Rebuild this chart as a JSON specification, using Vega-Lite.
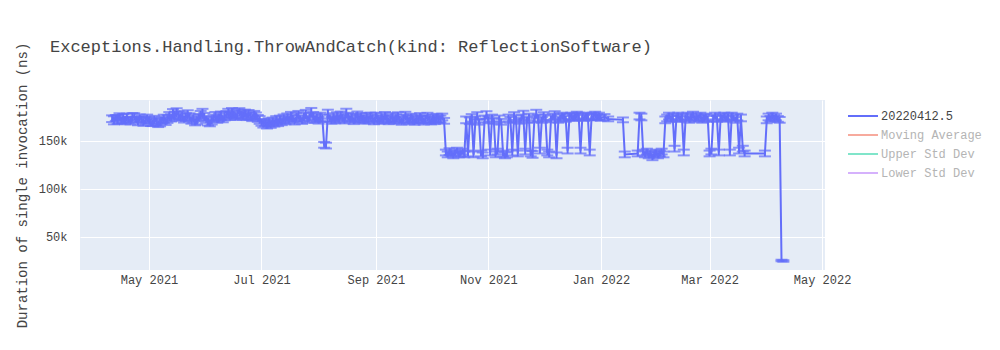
{
  "$schema": "https://vega.github.io/schema/vega-lite/v6.json",
  "autosize": "none",
  "width": 745,
  "height": 170,
  "padding": {"left": 80, "top": 100, "right": 175, "bottom": 80},
  "background": "white",
  "title": {"text": "Exceptions.Handling.ThrowAndCatch(kind: ReflectionSoftware)", "anchor": "start", "frame": "group", "dx": -30, "offset": -14, "font": "Liberation Mono", "fontSize": 17, "fontWeight": "normal", "color": "#444444"},
  "config": {
    "view": {"fill": "#e5ecf6", "stroke": null},
    "axis": {"gridColor": "white", "gridWidth": 1, "domain": false, "ticks": false, "labelFont": "Liberation Mono", "labelFontSize": 12, "labelColor": "#444444", "titleFont": "Liberation Mono", "titleFontSize": 14, "titleColor": "#444444", "titleFontWeight": "normal"}
  },
  "data": {"values": [
    {"d":"2021-04-11","v":173200,"e":3500},{"d":"2021-04-12","v":171500,"e":4200},{"d":"2021-04-13","v":174000,"e":3000},{"d":"2021-04-14","v":172300,"e":4500},{"d":"2021-04-15","v":175100,"e":3800},{"d":"2021-04-16","v":171800,"e":3200},{"d":"2021-04-17","v":173600,"e":4400},{"d":"2021-04-18","v":170900,"e":3500},{"d":"2021-04-19","v":174400,"e":4000},{"d":"2021-04-20","v":172100,"e":3300},
    {"d":"2021-04-21","v":171000,"e":3700},{"d":"2021-04-22","v":174800,"e":4300},{"d":"2021-04-23","v":175300,"e":3600},{"d":"2021-04-24","v":172200,"e":3100},{"d":"2021-04-25","v":170600,"e":4200},{"d":"2021-04-26","v":173900,"e":3800},{"d":"2021-04-27","v":172500,"e":3400},{"d":"2021-04-28","v":169800,"e":4000},{"d":"2021-04-29","v":171200,"e":3600},{"d":"2021-04-30","v":173400,"e":4100},
    {"d":"2021-05-01","v":171700,"e":3500},{"d":"2021-05-02","v":169500,"e":3900},{"d":"2021-05-03","v":168800,"e":3300},{"d":"2021-05-04","v":172000,"e":4200},{"d":"2021-05-05","v":170300,"e":3600},{"d":"2021-05-06","v":167900,"e":3400},{"d":"2021-05-07","v":169200,"e":3900},{"d":"2021-05-08","v":171600,"e":3500},{"d":"2021-05-09","v":173100,"e":4300},{"d":"2021-05-10","v":170400,"e":3700},
    {"d":"2021-05-11","v":172800,"e":4000},{"d":"2021-05-12","v":175500,"e":4600},{"d":"2021-05-13","v":174100,"e":3800},{"d":"2021-05-14","v":178200,"e":5000},{"d":"2021-05-15","v":176400,"e":4200},{"d":"2021-05-16","v":179300,"e":4800},{"d":"2021-05-17","v":177000,"e":4000},{"d":"2021-05-18","v":174600,"e":3600},{"d":"2021-05-19","v":176200,"e":4400},{"d":"2021-05-20","v":172700,"e":3500},
    {"d":"2021-05-21","v":174900,"e":4100},{"d":"2021-05-22","v":177300,"e":4700},{"d":"2021-05-23","v":175000,"e":3900},{"d":"2021-05-24","v":171400,"e":3400},{"d":"2021-05-25","v":173200,"e":4000},{"d":"2021-05-26","v":169900,"e":3600},{"d":"2021-05-27","v":171500,"e":4200},{"d":"2021-05-28","v":174300,"e":3800},{"d":"2021-05-29","v":176800,"e":4500},{"d":"2021-05-30","v":178600,"e":4900},
    {"d":"2021-05-31","v":175200,"e":4000},{"d":"2021-06-01","v":172400,"e":3500},{"d":"2021-06-02","v":170100,"e":3900},{"d":"2021-06-03","v":168700,"e":3400},{"d":"2021-06-04","v":171300,"e":4100},{"d":"2021-06-05","v":173800,"e":3700},{"d":"2021-06-06","v":175900,"e":4300},{"d":"2021-06-07","v":172600,"e":3600},{"d":"2021-06-08","v":174500,"e":4000},{"d":"2021-06-09","v":176300,"e":4400},
    {"d":"2021-06-10","v":173000,"e":3500},{"d":"2021-06-11","v":175700,"e":4200},{"d":"2021-06-12","v":177400,"e":3800},{"d":"2021-06-13","v":178900,"e":4600},{"d":"2021-06-14","v":176100,"e":4000},{"d":"2021-06-15","v":179500,"e":4800},{"d":"2021-06-16","v":177800,"e":4100},{"d":"2021-06-17","v":175600,"e":3700},{"d":"2021-06-18","v":178300,"e":4500},{"d":"2021-06-19","v":180000,"e":4200},
    {"d":"2021-06-20","v":177200,"e":3900},{"d":"2021-06-21","v":176500,"e":4300},{"d":"2021-06-22","v":178700,"e":4000},{"d":"2021-06-23","v":175400,"e":3600},{"d":"2021-06-24","v":177900,"e":4400},{"d":"2021-06-25","v":176000,"e":3800},{"d":"2021-06-26","v":174200,"e":3500},{"d":"2021-06-27","v":177100,"e":4200},{"d":"2021-06-28","v":175800,"e":3900},{"d":"2021-06-29","v":173500,"e":3600},
    {"d":"2021-06-30","v":171900,"e":4000},{"d":"2021-07-01","v":169400,"e":3500},{"d":"2021-07-02","v":167800,"e":3800},{"d":"2021-07-03","v":168900,"e":3300},{"d":"2021-07-04","v":166700,"e":3700},{"d":"2021-07-05","v":169600,"e":4100},{"d":"2021-07-06","v":167200,"e":3500},{"d":"2021-07-07","v":170500,"e":3900},{"d":"2021-07-08","v":168400,"e":3400},{"d":"2021-07-09","v":171700,"e":4200},
    {"d":"2021-07-10","v":169100,"e":3600},{"d":"2021-07-11","v":172400,"e":4000},{"d":"2021-07-12","v":170000,"e":3500},{"d":"2021-07-13","v":173300,"e":4300},{"d":"2021-07-14","v":171200,"e":3700},{"d":"2021-07-15","v":174600,"e":4100},{"d":"2021-07-16","v":172000,"e":3600},{"d":"2021-07-17","v":175800,"e":4500},{"d":"2021-07-18","v":173400,"e":3800},{"d":"2021-07-19","v":170600,"e":3400},
    {"d":"2021-07-20","v":174900,"e":4200},{"d":"2021-07-21","v":176700,"e":4600},{"d":"2021-07-22","v":173100,"e":3700},{"d":"2021-07-23","v":171300,"e":3500},{"d":"2021-07-24","v":175200,"e":4300},{"d":"2021-07-25","v":177600,"e":4800},{"d":"2021-07-26","v":172500,"e":3600},{"d":"2021-07-27","v":174700,"e":4000},{"d":"2021-07-28","v":179400,"e":5000},{"d":"2021-07-29","v":176000,"e":4200},
    {"d":"2021-07-30","v":172800,"e":3700},{"d":"2021-07-31","v":174300,"e":4100},{"d":"2021-08-01","v":171600,"e":3500},{"d":"2021-08-02","v":175100,"e":4400},{"d":"2021-08-03","v":173700,"e":3800},{"d":"2021-08-04","v":146000,"e":3000},{"d":"2021-08-05","v":145200,"e":3000},{"d":"2021-08-06","v":177900,"e":4700},{"d":"2021-08-07","v":173700,"e":3800},{"d":"2021-08-08","v":171400,"e":3500},
    {"d":"2021-08-09","v":174800,"e":4200},{"d":"2021-08-10","v":172200,"e":3600},{"d":"2021-08-11","v":175600,"e":4400},{"d":"2021-08-12","v":173000,"e":3700},{"d":"2021-08-13","v":176400,"e":4300},{"d":"2021-08-14","v":174100,"e":3900},{"d":"2021-08-15","v":171800,"e":3500},{"d":"2021-08-16","v":178600,"e":5000},{"d":"2021-08-17","v":175300,"e":4100},{"d":"2021-08-18","v":172900,"e":3600},
    {"d":"2021-08-19","v":174500,"e":4000},{"d":"2021-08-20","v":171100,"e":3500},{"d":"2021-08-21","v":173800,"e":4200},{"d":"2021-08-22","v":176200,"e":4500},{"d":"2021-08-23","v":172600,"e":3700},{"d":"2021-08-24","v":175000,"e":4100},{"d":"2021-08-25","v":173300,"e":3800},{"d":"2021-08-26","v":171500,"e":3500},{"d":"2021-08-27","v":174700,"e":4300},{"d":"2021-08-28","v":172100,"e":3600},
    {"d":"2021-08-29","v":175400,"e":4200},{"d":"2021-08-30","v":173600,"e":3900},{"d":"2021-08-31","v":170800,"e":3400},{"d":"2021-09-01","v":175200,"e":4300},{"d":"2021-09-02","v":173100,"e":3800},{"d":"2021-09-03","v":171400,"e":3500},{"d":"2021-09-04","v":174600,"e":4200},{"d":"2021-09-05","v":172300,"e":3700},{"d":"2021-09-06","v":175800,"e":4400},{"d":"2021-09-07","v":173500,"e":3900},
    {"d":"2021-09-08","v":170900,"e":3400},{"d":"2021-09-09","v":172700,"e":3800},{"d":"2021-09-10","v":174900,"e":4300},{"d":"2021-09-11","v":171600,"e":3600},{"d":"2021-09-12","v":173800,"e":4000},{"d":"2021-09-13","v":175500,"e":4400},{"d":"2021-09-14","v":172000,"e":3500},{"d":"2021-09-15","v":170700,"e":3800},{"d":"2021-09-16","v":173400,"e":4100},{"d":"2021-09-17","v":175900,"e":4500},
    {"d":"2021-09-18","v":172800,"e":3700},{"d":"2021-09-19","v":171100,"e":3500},{"d":"2021-09-20","v":174200,"e":4200},{"d":"2021-09-21","v":172500,"e":3800},{"d":"2021-09-22","v":170300,"e":3400},{"d":"2021-09-23","v":173600,"e":4000},{"d":"2021-09-24","v":171900,"e":3600},{"d":"2021-09-25","v":174800,"e":4300},{"d":"2021-09-26","v":172400,"e":3700},{"d":"2021-09-27","v":170600,"e":3500},
    {"d":"2021-09-28","v":173100,"e":4000},{"d":"2021-09-29","v":175000,"e":4400},{"d":"2021-09-30","v":172200,"e":3600},{"d":"2021-10-01","v":170800,"e":3500},{"d":"2021-10-02","v":173500,"e":4100},{"d":"2021-10-03","v":171300,"e":3700},{"d":"2021-10-04","v":174100,"e":4200},{"d":"2021-10-05","v":172600,"e":3800},
    {"d":"2021-10-06","v":173000,"e":3500},{"d":"2021-10-07","v":175000,"e":3500},{"d":"2021-10-08","v":171000,"e":3000},{"d":"2021-10-09","v":138000,"e":3000},{"d":"2021-10-10","v":136000,"e":3000},{"d":"2021-10-11","v":139000,"e":3500},{"d":"2021-10-12","v":137000,"e":3000},{"d":"2021-10-13","v":135000,"e":3000},{"d":"2021-10-14","v":138000,"e":3000},{"d":"2021-10-15","v":140000,"e":3000},
    {"d":"2021-10-16","v":136000,"e":3000},{"d":"2021-10-17","v":137000,"e":3000},{"d":"2021-10-18","v":139000,"e":3000},{"d":"2021-10-19","v":136000,"e":3000},{"d":"2021-10-20","v":172000,"e":3500},{"d":"2021-10-21","v":137000,"e":3000},{"d":"2021-10-22","v":171000,"e":3500},{"d":"2021-10-23","v":174000,"e":4000},{"d":"2021-10-24","v":136000,"e":3000},{"d":"2021-10-25","v":172000,"e":3500},
    {"d":"2021-10-26","v":176000,"e":4000},{"d":"2021-10-27","v":170000,"e":3000},{"d":"2021-10-28","v":137000,"e":3000},{"d":"2021-10-29","v":135000,"e":3000},{"d":"2021-10-30","v":173000,"e":3500},{"d":"2021-10-31","v":177000,"e":4000},{"d":"2021-11-01","v":172000,"e":3500},{"d":"2021-11-02","v":138000,"e":3000},{"d":"2021-11-03","v":174000,"e":3500},{"d":"2021-11-04","v":171000,"e":3000},
    {"d":"2021-11-05","v":136000,"e":3000},{"d":"2021-11-06","v":139000,"e":3000},{"d":"2021-11-07","v":173000,"e":3500},{"d":"2021-11-08","v":170000,"e":3000},{"d":"2021-11-09","v":137000,"e":3000},{"d":"2021-11-10","v":135000,"e":3000},{"d":"2021-11-11","v":136000,"e":3000},{"d":"2021-11-12","v":174000,"e":3500},{"d":"2021-11-13","v":172000,"e":3000},{"d":"2021-11-14","v":138000,"e":3000},
    {"d":"2021-11-15","v":176000,"e":4000},{"d":"2021-11-16","v":173000,"e":3500},{"d":"2021-11-17","v":137000,"e":3000},{"d":"2021-11-18","v":171000,"e":3000},{"d":"2021-11-19","v":174000,"e":3500},{"d":"2021-11-20","v":177000,"e":4500},{"d":"2021-11-21","v":139000,"e":3000},{"d":"2021-11-22","v":172000,"e":3000},{"d":"2021-11-23","v":175000,"e":3500},{"d":"2021-11-24","v":137000,"e":3000},
    {"d":"2021-11-25","v":136000,"e":3500},{"d":"2021-11-26","v":173000,"e":3500},{"d":"2021-11-27","v":178000,"e":4500},{"d":"2021-11-28","v":174000,"e":3500},{"d":"2021-11-29","v":140000,"e":3000},{"d":"2021-11-30","v":172000,"e":3000},{"d":"2021-12-01","v":176000,"e":4000},{"d":"2021-12-02","v":174000,"e":3500},{"d":"2021-12-03","v":138000,"e":3000},{"d":"2021-12-04","v":136000,"e":3000},
    {"d":"2021-12-05","v":173000,"e":3500},{"d":"2021-12-06","v":175000,"e":3500},{"d":"2021-12-07","v":177000,"e":4000},{"d":"2021-12-08","v":135000,"e":3000},{"d":"2021-12-09","v":172000,"e":3000},{"d":"2021-12-10","v":174000,"e":3500},{"d":"2021-12-11","v":176000,"e":3500},{"d":"2021-12-12","v":175000,"e":3500},{"d":"2021-12-13","v":173000,"e":3000},{"d":"2021-12-14","v":140000,"e":3000},
    {"d":"2021-12-15","v":175000,"e":3500},{"d":"2021-12-16","v":176000,"e":3500},{"d":"2021-12-17","v":174000,"e":3000},{"d":"2021-12-18","v":175000,"e":3500},{"d":"2021-12-19","v":177000,"e":3500},{"d":"2021-12-20","v":176000,"e":3500},{"d":"2021-12-21","v":140000,"e":3000},{"d":"2021-12-22","v":175000,"e":3500},{"d":"2021-12-23","v":174000,"e":3000},{"d":"2021-12-24","v":176000,"e":3500},
    {"d":"2021-12-25","v":175000,"e":3000},{"d":"2021-12-26","v":138000,"e":3000},{"d":"2021-12-27","v":175000,"e":3500},{"d":"2021-12-28","v":176000,"e":3500},{"d":"2021-12-29","v":177000,"e":3500},{"d":"2021-12-30","v":175000,"e":3000},{"d":"2021-12-31","v":176000,"e":3500},{"d":"2022-01-01","v":174000,"e":3000},{"d":"2022-01-03","v":175000,"e":3000},{"d":"2022-01-05","v":173000,"e":2500},
    {"d":"2022-01-13","v":172000,"e":2500},{"d":"2022-01-14","v":136000,"e":3000},{"d":"2022-01-21","v":137000,"e":3000},{"d":"2022-01-22","v":176000,"e":3500},{"d":"2022-01-23","v":175000,"e":3500},{"d":"2022-01-24","v":138000,"e":3000},{"d":"2022-01-25","v":136000,"e":3000},{"d":"2022-01-26","v":139000,"e":3000},{"d":"2022-01-27","v":135000,"e":3000},{"d":"2022-01-28","v":137000,"e":3000},
    {"d":"2022-01-29","v":133000,"e":3000},{"d":"2022-01-30","v":136000,"e":3000},{"d":"2022-01-31","v":138000,"e":3000},{"d":"2022-02-01","v":135000,"e":3000},{"d":"2022-02-02","v":137000,"e":3000},{"d":"2022-02-03","v":139000,"e":3000},{"d":"2022-02-04","v":136000,"e":3000},{"d":"2022-02-05","v":172000,"e":3500},{"d":"2022-02-06","v":174000,"e":3500},{"d":"2022-02-07","v":176000,"e":3500},
    {"d":"2022-02-08","v":173000,"e":3000},{"d":"2022-02-09","v":175000,"e":3500},{"d":"2022-02-10","v":142000,"e":3000},{"d":"2022-02-11","v":174000,"e":3500},{"d":"2022-02-12","v":176000,"e":3500},{"d":"2022-02-13","v":173000,"e":3000},{"d":"2022-02-14","v":175000,"e":3500},{"d":"2022-02-15","v":138000,"e":3000},{"d":"2022-02-16","v":174000,"e":3500},{"d":"2022-02-17","v":176000,"e":3500},
    {"d":"2022-02-18","v":172000,"e":3000},{"d":"2022-02-19","v":175000,"e":3500},{"d":"2022-02-20","v":177000,"e":3500},{"d":"2022-02-21","v":173000,"e":3000},{"d":"2022-02-22","v":175000,"e":3500},{"d":"2022-02-23","v":174000,"e":3000},{"d":"2022-02-24","v":176000,"e":3500},{"d":"2022-02-25","v":172000,"e":3000},{"d":"2022-02-26","v":174000,"e":3500},{"d":"2022-02-27","v":175000,"e":3500},
    {"d":"2022-02-28","v":173000,"e":3000},{"d":"2022-03-01","v":137000,"e":3000},{"d":"2022-03-02","v":139000,"e":3000},{"d":"2022-03-03","v":174000,"e":3500},{"d":"2022-03-04","v":176000,"e":3500},{"d":"2022-03-05","v":173000,"e":3000},{"d":"2022-03-06","v":138000,"e":3000},{"d":"2022-03-07","v":175000,"e":3500},{"d":"2022-03-08","v":174000,"e":3000},{"d":"2022-03-09","v":176000,"e":3500},
    {"d":"2022-03-10","v":173000,"e":3000},{"d":"2022-03-11","v":175000,"e":3500},{"d":"2022-03-12","v":138000,"e":3000},{"d":"2022-03-13","v":176000,"e":3500},{"d":"2022-03-14","v":174000,"e":3000},{"d":"2022-03-15","v":172000,"e":3000},{"d":"2022-03-16","v":175000,"e":3500},{"d":"2022-03-17","v":140000,"e":3000},{"d":"2022-03-18","v":174000,"e":3500},{"d":"2022-03-19","v":142000,"e":3000},
    {"d":"2022-03-20","v":137000,"e":3000},{"d":"2022-03-31","v":137000,"e":3000},{"d":"2022-04-01","v":172000,"e":3500},{"d":"2022-04-02","v":175000,"e":3500},{"d":"2022-04-03","v":173000,"e":3000},{"d":"2022-04-04","v":176000,"e":3500},{"d":"2022-04-05","v":174000,"e":3000},{"d":"2022-04-06","v":175000,"e":3500},{"d":"2022-04-07","v":173000,"e":3000},{"d":"2022-04-08","v":172000,"e":3000},
    {"d":"2022-04-09","v":25500,"e":800},{"d":"2022-04-10","v":25000,"e":800}
  ]},
  "encoding": {
    "x": {"field": "d", "type": "temporal",
      "scale": {"type": "utc", "domain": [{"year": 2021, "month": 3, "date": 24, "hours": 14, "utc": true}, {"year": 2022, "month": 5, "date": 2, "hours": 14, "utc": true}]},
      "axis": {"title": null, "format": "%b %Y", "labelPadding": 4,
        "values": [{"year": 2021, "month": 5, "date": 1, "utc": true}, {"year": 2021, "month": 7, "date": 1, "utc": true}, {"year": 2021, "month": 9, "date": 1, "utc": true}, {"year": 2021, "month": 11, "date": 1, "utc": true}, {"year": 2022, "month": 1, "date": 1, "utc": true}, {"year": 2022, "month": 3, "date": 1, "utc": true}, {"year": 2022, "month": 5, "date": 1, "utc": true}]}},
    "y": {"field": "v", "type": "quantitative",
      "scale": {"domain": [15600, 192700], "nice": false, "zero": false},
      "axis": {"title": "Duration of single invocation (ns)", "values": [50000, 100000, 150000], "format": "~s", "labelPadding": 13, "titlePadding": 9}}
  },
  "layer": [
    {"mark": {"type": "errorbar", "ticks": {"size": 12, "thickness": 2}, "thickness": 2, "color": "#636efa"},
     "encoding": {"yError": {"field": "e"}}},
    {"mark": {"type": "line", "strokeWidth": 2, "interpolate": "linear"},
     "encoding": {"color": {"datum": "20220412.5", "type": "nominal",
        "scale": {"domain": ["20220412.5", "Moving Average", "Upper Std Dev", "Lower Std Dev"], "range": ["#636efa", "#f7aa9d", "#80e5ca", "#d5b1fc"]},
        "legend": {"title": null, "orient": "none", "legendX": 777, "legendY": 10, "symbolType": "M-3,0H3", "symbolSize": 100, "symbolStrokeWidth": 2, "labelFont": "Liberation Mono", "labelFontSize": 12, "labelColor": "#444444", "rowPadding": 7, "labelOffset": 12,
          "encode": {"labels": {"update": {"fill": {"signal": "datum.label === '20220412.5' ? '#444444' : '#b4b4b4'"}}}}}}}}
  ]
}
